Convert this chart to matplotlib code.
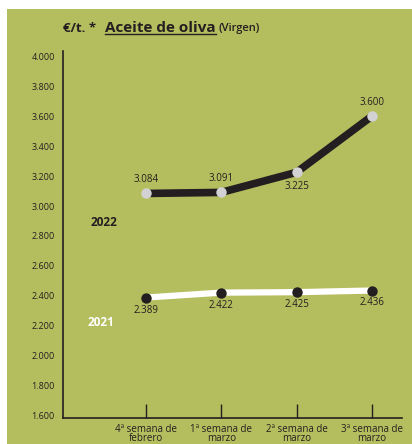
import matplotlib
matplotlib.use('Agg')
import matplotlib.pyplot as plt
from matplotlib.patches import Rectangle
from matplotlib.lines import Line2D

plt.rcParams['font.family'] = ['Open Sans', 'DejaVu Sans']

# data
weeks = ['4ª semana de\nfebrero', '1ª semana de\nmarzo', '2ª semana de\nmarzo', '3ª semana de\nmarzo']
precio_2022 = [3084, 3091, 3225, 3600]
precio_2021 = [2389, 2422, 2425, 2436]
yticks = [1600, 1800, 2000, 2200, 2400, 2600, 2800, 3000, 3200, 3400, 3600, 3800, 4000]
pos_2022 = ['above', 'above', 'below', 'above']

green = '#b4be5e'
dark = '#231f20'

W, H = 412, 444
fig = plt.figure(figsize=(W / 100, H / 100), dpi=100)
fig.patch.set_facecolor('white')
fig.add_artist(Rectangle((7 / W, 0), 1 - 7 / W, 1 - 9 / H, transform=fig.transFigure,
                         facecolor=green, edgecolor='none', zorder=0))

ax = fig.add_axes([63 / W, 26 / H, (402 - 63) / W, (418 - 51) / H])
ax.set_facecolor('none')
x = list(range(len(weeks)))

ax.plot(x, precio_2022, color=dark, lw=5.5, solid_capstyle='butt', zorder=3)
ax.plot(x, precio_2022, 'o', color='#d2d2d4', ms=7.5, mec='none', zorder=4)
ax.plot(x, precio_2021, color='white', lw=4.5, solid_capstyle='butt', zorder=3)
ax.plot(x, precio_2021, 'o', color=dark, ms=7.5, mec='none', zorder=4)

for xi, v, p in zip(x, precio_2022, pos_2022):
    off = 6 if p == 'above' else -6
    ax.annotate(f'{v/1000:.3f}', (xi, v), xytext=(0, off), textcoords='offset points',
                ha='center', va='bottom' if p == 'above' else 'top', fontsize=7, color=dark)
for xi, v in zip(x, precio_2021):
    ax.annotate(f'{v/1000:.3f}', (xi, v), xytext=(0, -5), textcoords='offset points',
                ha='center', va='top', fontsize=7, color=dark)

ax.text(-0.55, 2890, '2022', fontsize=8.5, fontweight='bold', color=dark, ha='center', va='center')
ax.text(-0.6, 2225, '2021', fontsize=8.5, fontweight='bold', color='white', ha='center', va='center')

ax.set_xlim(-1.1, 3.4)
ax.set_ylim(1585, 4035)
ax.set_yticks(yticks)
ax.set_yticklabels([f'{t/1000:.3f}' for t in yticks], fontsize=6.5, color=dark)
ax.set_xticks(x)
ax.set_xticklabels(weeks, fontsize=7, color=dark, linespacing=0.8)
ax.tick_params(axis='y', length=0, pad=6)
ax.tick_params(axis='x', direction='in', length=10, width=1, color=dark, pad=4)
for s in ['top', 'right']:
    ax.spines[s].set_visible(False)
for s in ['left', 'bottom']:
    ax.spines[s].set_color(dark)
    ax.spines[s].set_linewidth(1.2)

# title
t1 = fig.text(63 / W, 1 - 28 / H, '€/t. *', fontsize=9.5, fontweight='bold', color=dark, va='center')
t2 = fig.text(105 / W, 1 - 28 / H, 'Aceite de oliva', fontsize=11, fontweight='bold', color=dark, va='center')
fig.canvas.draw()
bb = t2.get_window_extent(fig.canvas.get_renderer())
fig.text((bb.x1 + 3) / W, 1 - 29 / H, '(Virgen)', fontsize=8, fontweight='semibold', color=dark, va='center')
fig.add_artist(Line2D([bb.x0 / W, bb.x1 / W], [(bb.y0 + 1) / H] * 2, transform=fig.transFigure,
                      color=dark, lw=1))

fig.savefig('out.png', dpi=100, facecolor=fig.get_facecolor())
